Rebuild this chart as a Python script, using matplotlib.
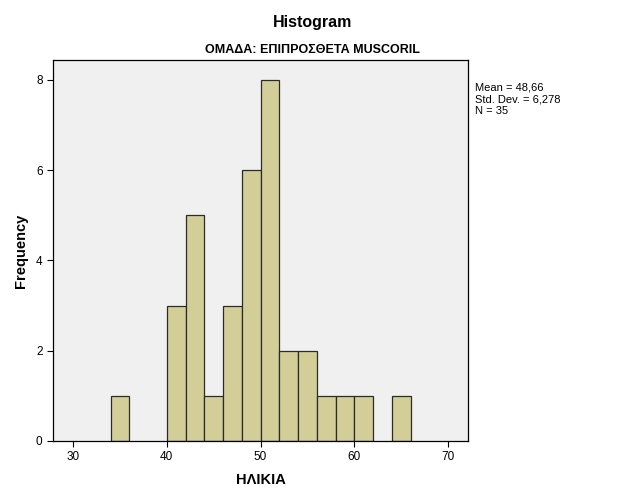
import matplotlib.pyplot as plt

# histogram of ages, bin width 2
bin_left = [34, 40, 42, 44, 46, 48, 50, 52, 54, 56, 58, 60, 64]
counts = [1, 3, 5, 1, 3, 6, 8, 2, 2, 1, 1, 1, 1]
bin_width = 2
x_ticks = [30, 40, 50, 60, 70]
y_ticks = [0, 2, 4, 6, 8]
stats_lines = ["Mean = 48,66", "Std. Dev. = 6,278", "N = 35"]

plt.rcParams['font.family'] = ['Liberation Sans', 'DejaVu Sans']

fig = plt.figure(figsize=(6.26, 5.01), dpi=100)
ax = fig.add_axes([0.0847, 0.1198, 0.663, 0.7605])
ax.set_facecolor('#f0f0f0')

ax.bar(bin_left, counts, width=bin_width, align='edge',
       color='#d3ce97', edgecolor='#2b2b2b', linewidth=0.9)

ax.set_xlim(27.87, 72.13)
ax.set_ylim(0, 8.44)
ax.set_xticks(x_ticks)
ax.set_yticks(y_ticks)
ax.tick_params(direction='out', length=4, width=0.8, labelsize=8.5, colors='black')
for side in ['left', 'right', 'top', 'bottom']:
    ax.spines[side].set_linewidth(0.9)

ax.set_xlabel("ΗΛΙΚΙΑ", fontsize=10.5, fontweight='bold', labelpad=7)
ax.set_ylabel("Frequency", fontsize=10.5, fontweight='bold', labelpad=6)

fig.text(0.499, 0.955, "Histogram", ha='center', va='center',
         fontsize=11.5, fontweight='bold')
fig.text(0.499, 0.9, "ΟΜΑΔΑ: ΕΠΙΠΡΟΣΘΕΤΑ MUSCORIL", ha='center', va='center',
         fontsize=9, fontweight='bold',
         family=['Liberation Sans Narrow', 'Liberation Sans', 'DejaVu Sans'])

fig.text(0.759, 0.835, "\n".join(stats_lines), ha='left', va='top',
         fontsize=8, linespacing=1.2)

fig.savefig("out.png", dpi=100)
